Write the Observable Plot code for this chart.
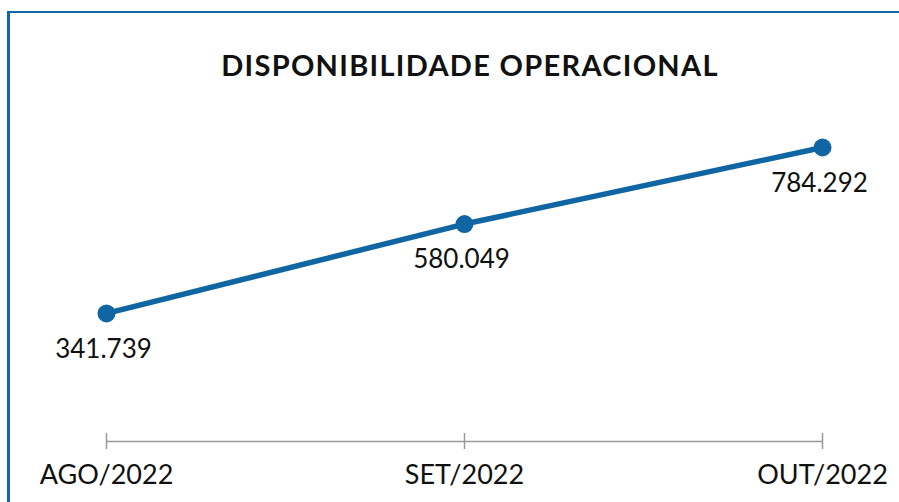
<!DOCTYPE html>
<html><head><meta charset="utf-8">
<script src="https://cdn.jsdelivr.net/npm/d3@7"></script>
<script src="https://cdn.jsdelivr.net/npm/@observablehq/plot@0.6"></script>
<style>
html,body{margin:0;padding:0;background:#fff;}
#wrap{position:relative;width:899px;height:502px;overflow:hidden;font-family:"Lato",sans-serif;}
#frame{position:absolute;left:7px;top:11px;width:900px;height:500px;border-left:3px solid #1066a3;border-top:2px solid #1066a3;}
#title{position:absolute;left:0;width:940px;top:47px;text-align:center;font-weight:bold;font-size:29px;letter-spacing:1.3px;color:#111;font-family:"Lato",sans-serif;}
#chart{position:absolute;left:0;top:0;}
</style></head>
<body><div id="wrap"><div id="frame"></div><div id="title">DISPONIBILIDADE OPERACIONAL</div><div id="chart"></div></div>
<script>
const months = ["AGO/2022", "SET/2022", "OUT/2022"];
const values = [341739, 580049, 784292];
const valueLabels = ["341.739", "580.049", "784.292"];
const data = months.map((m, i) => ({month: m, value: values[i], label: valueLabels[i]}));
const blue = "#1066a3";
const chart = Plot.plot({
  width: 899, height: 502,
  marginLeft: 106, marginRight: 77, marginTop: 100, marginBottom: 61,
  style: {fontFamily: "Lato, sans-serif", background: "transparent", overflow: "visible"},
  x: {type: "point", domain: months, padding: 0, label: null},
  y: {domain: [0, 784292], range: [441, 147], axis: null},
  marks: [
    Plot.ruleY([0], {stroke: "#999", strokeWidth: 1.5}),
    Plot.ruleX(months, {x: d => d, y1: 0, y2: 0, insetTop: -8, insetBottom: -8, stroke: "#999", strokeWidth: 1.5}),
    Plot.axisX({tickSize: 0, tickPadding: 23, fontSize: 27, fill: "#111", label: null}),
    Plot.line(data, {x: "month", y: "value", stroke: blue, strokeWidth: 5.5}),
    Plot.dot(data, {x: "month", y: "value", r: 9, fill: blue, stroke: null}),
    Plot.text(data, {x: "month", y: "value", text: "label", dy: 36, dx: -3, fontSize: 26, fill: "#111"})
  ]
});
document.getElementById("chart").appendChild(chart);
</script></body></html>
